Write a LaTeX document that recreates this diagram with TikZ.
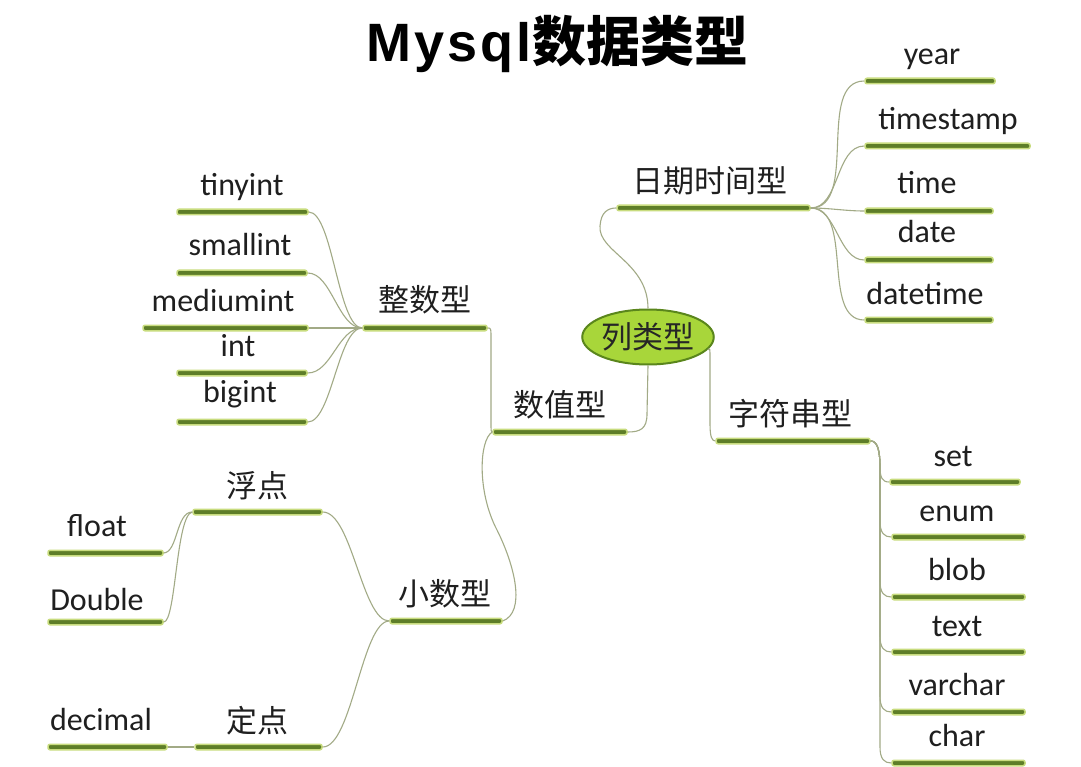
\documentclass[tikz,border=0pt]{standalone}
\usepackage{fontspec}
\newfontfamily\lat{Carlito}
\newfontfamily\cjk{Noto Sans CJK SC}
\newfontfamily\ttl{Liberation Sans}[LetterSpace=6]
\usetikzlibrary{shapes.geometric}
\definecolor{ulc}{HTML}{5E7E28}
\definecolor{halo}{HTML}{C8DC7E}
\definecolor{conc}{HTML}{A2AA86}
\definecolor{txt}{HTML}{1F1F1F}
\definecolor{ellf}{HTML}{A8D63A}
\definecolor{elld}{HTML}{5A861C}
\tikzset{
  bar/.style={rectangle, inner sep=0pt, minimum height=5.5pt, fill=ulc, draw=halo, line width=1.5pt, rounded corners=2pt},
  lt/.style={anchor=base, inner sep=0pt, text=txt, font=\lat\fontsize{32}{36}\selectfont},
  ct/.style={anchor=base, inner sep=0pt, text=txt, font=\cjk\fontsize{31}{34}\selectfont},
  con/.style={draw=conc, line width=1.1pt},
}
\begin{document}
\begin{tikzpicture}[x=1pt,y=-1pt]
\useasboundingbox (0,0) rectangle (1081,767);
\fill[white] (0,0) rectangle (1081,767);

% title
\node[anchor=base, inner sep=0pt, text=black] (title) at (557,62)
  {\fontsize{54}{60}\selectfont\bfseries{\ttl Mysql}{\cjk 数据类型}};

% centre
\node[ellipse, fill=ellf, draw=elld, line width=2pt, minimum width=122, minimum height=55, inner sep=0pt,
      text=black!85, font=\cjk\fontsize{31}{33}\selectfont] (root) at (648,337) {列类型};

% ---- date/time branch
\node[bar, minimum width=193] (dt) at (713.5,208) {};
\node[ct] (dt-t) at (710,193) {日期时间型};
\node[bar, minimum width=130] (year) at (930,81) {};
\node[lt] (year-t) at (932,65) {year};
\node[bar, minimum width=165] (timestamp) at (947.5,146) {};
\node[lt] (timestamp-t) at (948,130) {timestamp};
\node[bar, minimum width=128] (time) at (929,211) {};
\node[lt] (time-t) at (927,194) {time};
\node[bar, minimum width=128] (date) at (929,260) {};
\node[lt] (date-t) at (927,243) {date};
\node[bar, minimum width=128] (datetime) at (929,320) {};
\node[lt] (datetime-t) at (925,304) {datetime};

% ---- string branch
\node[bar, minimum width=154] (str) at (793,441) {};
\node[ct] (str-t) at (790,425) {字符串型};
\node[bar, minimum width=130] (set) at (955,482) {};
\node[lt] (set-t) at (953,466) {set};
\node[bar, minimum width=133] (enum) at (958.5,537) {};
\node[lt] (enum-t) at (957,521) {enum};
\node[bar, minimum width=133] (blob) at (958.5,597) {};
\node[lt] (blob-t) at (957,580) {blob};
\node[bar, minimum width=133] (text) at (958.5,652) {};
\node[lt] (text-t) at (957,636) {text};
\node[bar, minimum width=133] (varchar) at (958.5,712) {};
\node[lt] (varchar-t) at (957,695) {varchar};
\node[bar, minimum width=133] (char) at (958.5,763) {};
\node[lt] (char-t) at (957,746) {char};

% ---- numeric branch
\node[bar, minimum width=134] (num) at (560,432) {};
\node[ct] (num-t) at (560,416) {数值型};
\node[bar, minimum width=124] (zs) at (425,328) {};
\node[ct] (zs-t) at (425,311) {整数型};
\node[bar, minimum width=131] (tinyint) at (242.5,212) {};
\node[lt] (tinyint-t) at (242,196) {tinyint};
\node[bar, minimum width=130] (smallint) at (242,273) {};
\node[lt] (smallint-t) at (240,256) {smallint};
\node[bar, minimum width=165] (mediumint) at (225.5,328) {};
\node[lt] (mediumint-t) at (223,311) {mediumint};
\node[bar, minimum width=130] (int) at (242,373) {};
\node[lt] (int-t) at (238,356) {int};
\node[bar, minimum width=130] (bigint) at (242,422) {};
\node[lt] (bigint-t) at (240,402) {bigint};

\node[bar, minimum width=112] (xs) at (446,621) {};
\node[ct] (xs-t) at (445,605) {小数型};
\node[bar, minimum width=129] (fd) at (257.5,512) {};
\node[ct] (fd-t) at (257,497) {浮点};
\node[bar, minimum width=127] (dd) at (258.5,747) {};
\node[ct] (dd-t) at (257,732) {定点};
\node[bar, minimum width=115] (float) at (105.5,553) {};
\node[lt] (float-t) at (97,536) {float};
\node[bar, minimum width=115] (double) at (105.5,622) {};
\node[lt] (double-t) at (97,610) {Double};
\node[bar, minimum width=119] (decimal) at (107.5,747) {};
\node[lt] (decimal-t) at (101,730) {decimal};

% ---- connectors
\draw[con] (root.north) .. controls (648,262) and (598,252) .. (600,226)
           .. controls (601,212) and (608,208) .. (dt.west);
\draw[con] (root.south) -- (647,414) .. controls (647,429) and (640,432) .. (num.east);
\draw[con] (root.-12) .. controls (710,348) .. (710,360) -- (710,424)
           .. controls (710,437) and (712,441) .. (str.west);

\foreach \c in {year,timestamp,time,date,datetime}
  \draw[con] (dt.east) to[out=0,in=180,looseness=0.9] (\c.west);

\foreach \c in {set,enum,blob,text,varchar,char}
  \draw[con] (str.east) .. controls (878,441) and (880,452) .. (880,468)
             -- ([yshift=16]\c.west -| 880,0) .. controls ([yshift=4]\c.west -| 880,0) and ([xshift=-7]\c.west) .. (\c.west);

\draw[con] (zs.east) .. controls (491,328) .. (491,340) -- (491,421) .. controls (491,432) .. (num.west);
\draw[con] (num.west) .. controls (479,440) and (477,492) .. (497,530)
           .. controls (515,566) and (526,612) .. (xs.east);

\foreach \c in {tinyint,smallint,mediumint,int,bigint}
  \draw[con] (zs.west) .. controls (338,328) and ([xshift=24]\c.east) .. (\c.east);

\draw[con] (xs.west) .. controls (362,621) and (352,512) .. (fd.east);
\draw[con] (xs.west) .. controls (362,621) and (352,747) .. (dd.east);
\draw[con] (fd.west) .. controls (176,512) and (178,552) .. (float.east);
\draw[con] (fd.west) .. controls (176,515) and (176,622) .. (double.east);
\draw[con] (decimal.east) -- (dd.west);
\end{tikzpicture}
\end{document}
